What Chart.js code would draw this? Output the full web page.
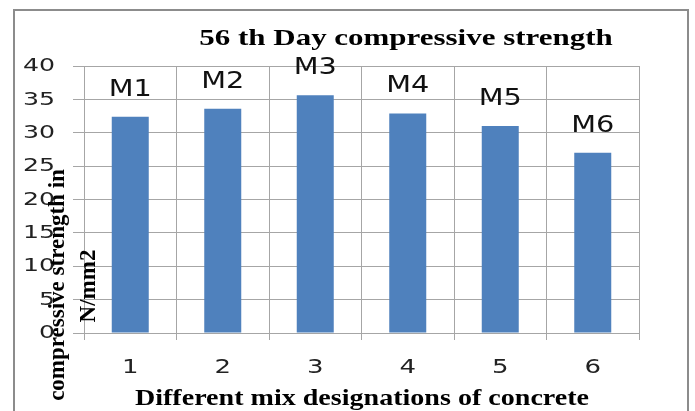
<!DOCTYPE html>
<html>
<head>
<meta charset="utf-8">
<script src="https://cdn.jsdelivr.net/npm/chart.js@4.4.1/dist/chart.umd.min.js"></script>
<style>
  html, body { margin: 0; padding: 0; background: #fff; }
</style>
</head>
<body>
<canvas id="strengthChart" width="695" height="411"></canvas>
<script>
// --- data ---
const mixLabels = ['1', '2', '3', '4', '5', '6'];
const mixNames = ['M1', 'M2', 'M3', 'M4', 'M5', 'M6'];
const strength56 = [32.4, 33.6, 35.6, 32.9, 31.0, 27.0];

const chartTitle = '56 th Day compressive strength';
const xTitle = 'Different mix designations of concrete';
const yTitleLines = ['compressive strength in', 'N/mm2'];

const gridGray = '#A6A6A6';
const barBlue = '#4F81BD';

// draw text squeezed/stretched horizontally (the source image is widened)
function drawText(ctx, text, x, y, opts) {
    ctx.save();
    ctx.translate(x, y);
    if (opts.rotate) ctx.rotate(opts.rotate);
    ctx.scale(opts.sx || 1, 1);
    ctx.font = opts.font;
    ctx.fillStyle = opts.color || '#000';
    ctx.textAlign = opts.align || 'center';
    ctx.textBaseline = opts.baseline || 'middle';
    ctx.fillText(text, 0, 0);
    ctx.restore();
}

const framePlugin = {
    id: 'frame',
    beforeDraw(chart) {
        const ctx = chart.ctx;
        ctx.save();
        ctx.fillStyle = '#fff';
        ctx.fillRect(0, 0, chart.width, chart.height);
        ctx.fillStyle = '#8C8C8C';
        ctx.fillRect(13, 9, 676, 2);   // top
        ctx.fillRect(13, 9, 2, 402);   // left
        ctx.fillRect(687, 9, 2, 402);  // right
        ctx.restore();
    }
};

const textPlugin = {
    id: 'texts',
    afterDraw(chart) {
        const ctx = chart.ctx;
        const xScale = chart.scales.x;
        const yScale = chart.scales.y;

        // y tick labels
        yScale.ticks.forEach(t => {
            drawText(ctx, String(t.value), 55, yScale.getPixelForValue(t.value) + 0.5,
                { font: '18px "DejaVu Sans"', sx: 1.4, align: 'right', color: '#222' });
        });

        // x tick labels
        chart.data.labels.forEach((lab, i) => {
            drawText(ctx, lab, xScale.getPixelForTick(i), 368,
                { font: '20px "DejaVu Sans"', sx: 1.3, color: '#222' });
        });

        // bar name labels
        const meta = chart.getDatasetMeta(0);
        meta.data.forEach((bar, i) => {
            drawText(ctx, mixNames[i], bar.x, bar.y - 27,
                { font: '23px "DejaVu Sans"', sx: 1.25, color: '#111' });
        });

        // titles
        drawText(ctx, chartTitle, 406, 45,
            { font: 'bold 24px "Liberation Serif"', sx: 1.29, baseline: 'alphabetic' });
        drawText(ctx, xTitle, 362, 405,
            { font: 'bold 23px "Liberation Serif"', sx: 1.22, baseline: 'alphabetic' });

        // rotated y title, two lines
        drawText(ctx, yTitleLines[0], 64, 285,
            { font: 'bold 23px "Liberation Serif"', rotate: -Math.PI / 2, baseline: 'alphabetic' });
        drawText(ctx, yTitleLines[1], 95, 286,
            { font: 'bold 23px "Liberation Serif"', rotate: -Math.PI / 2, baseline: 'alphabetic' });
    }
};

new Chart(document.getElementById('strengthChart'), {
    type: 'bar',
    data: {
        labels: mixLabels,
        datasets: [{
            data: strength56,
            backgroundColor: barBlue,
            barPercentage: 0.4,
            categoryPercentage: 1.0
        }]
    },
    options: {
        responsive: false,
        animation: false,
        layout: { padding: { top: 66, right: 56, left: 0, bottom: 0 } },
        plugins: {
            legend: { display: false },
            tooltip: { enabled: false }
        },
        scales: {
            x: {
                grid: { color: gridGray, tickLength: 7, offset: true },
                border: { color: gridGray },
                ticks: { display: false },
                afterFit(scale) { scale.height = 78; }
            },
            y: {
                min: 0,
                max: 40,
                ticks: { stepSize: 5, display: false },
                grid: { color: gridGray, tickLength: 11 },
                border: { color: gridGray },
                afterFit(scale) { scale.width = 84; }
            }
        }
    },
    plugins: [framePlugin, textPlugin]
});
</script>
</body>
</html>
